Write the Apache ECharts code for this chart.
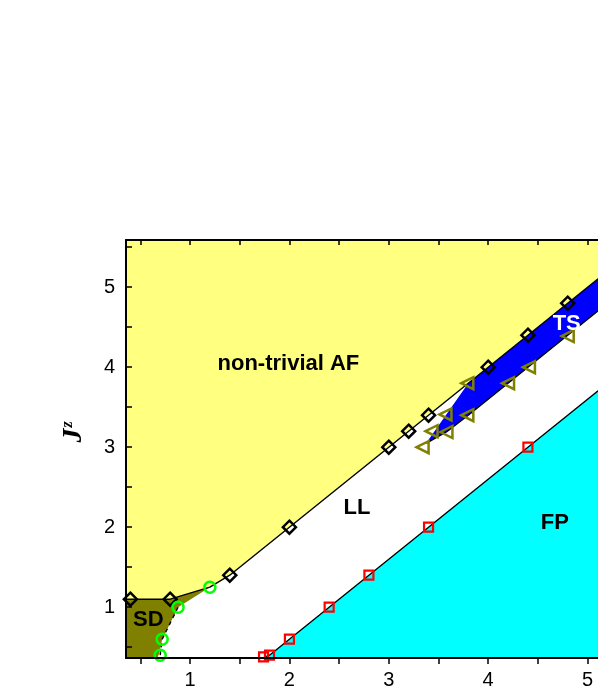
<!DOCTYPE html>
<html><head><meta charset="utf-8">
<script src="https://cdn.jsdelivr.net/npm/echarts@6/dist/echarts.min.js"></script>
<style>html,body{margin:0;padding:0;background:#fff}#c{width:598px;height:696px}</style>
</head><body><div id="c"></div>
<script>
// ---- axis ranges & ticks ----
const X_MIN = 0.356, X_MAX = 5.105, Y_MIN = 0.365, Y_MAX = 5.59;
const xTicks = [0.5,1,1.5,2,2.5,3,3.5,4,4.5,5];
const xLabels = [1,2,3,4,5];
const yTicks = [0.5,1,1.5,2,2.5,3,3.5,4,4.5,5,5.5];
const yLabels = [1,2,3,4,5];

// ---- marker data ----
const diamondX = [0.4, 0.8, 1.4, 2.0, 3.0, 3.2, 3.4, 4.0, 4.4, 4.8];
const diamondY = [1.1, 1.1, 1.4, 2.0, 3.0, 3.2, 3.4, 4.0, 4.4, 4.8];
const circleX = [0.7, 0.72, 0.88, 1.2];
const circleY = [0.4, 0.6, 1.0, 1.25];
const squareX = [1.74, 1.8, 2.0, 2.4, 2.8, 3.4, 4.4];
const squareY = [0.38, 0.4, 0.6, 1.0, 1.4, 2.0, 3.0];
const triX = [3.34, 3.43, 3.58, 3.57, 3.79, 3.79, 4.2, 4.41, 4.8];
const triY = [3.0, 3.2, 3.19, 3.41, 3.4, 3.8, 3.8, 4.0, 4.39];

// ---- boundary lines ----
const afLineX = [0.356, 0.4, 0.8, 1.2, 1.4, 2.0, 3.0, 3.2, 3.4, 3.8, 4.0, 4.4, 4.8, 5.6];
const afLineY = [1.1, 1.1, 1.1, 1.25, 1.4, 2.0, 3.0, 3.2, 3.4, 3.8, 4.0, 4.4, 4.8, 5.6];
const tsLowX = [3.38, 3.45, 3.58, 3.8, 4.2, 4.4, 4.8, 5.6];
const tsLowY = [3.05, 3.1, 3.19, 3.4, 3.8, 4.0, 4.4, 5.2];
const fpLineX = [1.735, 1.8, 2.0, 2.4, 2.8, 3.4, 4.4, 5.6];
const fpLineY = [0.365, 0.4, 0.6, 1.0, 1.4, 2.0, 3.0, 4.2];
const sdDashX = [0.88, 0.72, 0.7];
const sdDashY = [1.0, 0.6, 0.4];

// ---- region polygons ----
const afRegionX = [0.356, 0.356, 5.59, 4.8, 4.4, 4.0, 3.8, 3.4, 3.2, 3.0, 2.0, 1.4, 1.2, 0.8];
const afRegionY = [1.1, 5.59, 5.59, 4.8, 4.4, 4.0, 3.8, 3.4, 3.2, 3.0, 2.0, 1.4, 1.25, 1.1];
const sdRegionX = [0.356, 0.356, 0.8, 1.2, 0.88, 0.72, 0.69, 0.67];
const sdRegionY = [0.365, 1.1, 1.1, 1.25, 1.0, 0.6, 0.42, 0.365];
const tsRegionX = [3.37, 3.8, 4.0, 4.4, 4.8, 5.6, 5.6, 4.8, 4.4, 4.2, 3.8, 3.58, 3.44];
const tsRegionY = [3.04, 3.8, 4.0, 4.4, 4.8, 5.6, 5.2, 4.4, 4.0, 3.8, 3.4, 3.19, 3.09];
const fpRegionX = [1.735, 1.8, 2.0, 2.4, 2.8, 3.4, 4.4, 5.6, 5.6];
const fpRegionY = [0.365, 0.4, 0.6, 1.0, 1.4, 2.0, 3.0, 4.2, 0.365];

// ---- region labels ----
const labelText = ['non-trivial AF', 'LL', 'FP', 'SD', 'TS'];
const labelX = [1.99, 2.68, 4.67, 0.58, 4.79];
const labelY = [4.04, 2.24, 2.05, 0.84, 4.54];
const labelColor = ['#000', '#000', '#000', '#000', '#fff'];

const zip = (xs, ys) => xs.map((x, i) => [x, ys[i]]);

function polygon(xs, ys, color) {
  return {
    type: 'custom', coordinateSystem: 'cartesian2d', silent: true, clip: true, z: 1,
    data: zip(xs, ys),
    renderItem: function (params, api) {
      if (params.dataIndex !== 0) return null;
      const pts = xs.map((x, i) => api.coord([x, ys[i]]));
      return { type: 'polygon', shape: { points: pts }, style: { fill: color, stroke: null, lineWidth: 0 } };
    }
  };
}
function line(xs, ys, dashed) {
  return {
    type: 'line', data: zip(xs, ys), symbol: 'none', silent: true, z: 3, animation: false, clip: true,
    lineStyle: { color: '#000', width: 1.4, type: dashed ? [4, 4] : 'solid' }
  };
}
function markers(xs, ys, symbol, size, color, width, rotate) {
  return {
    type: 'scatter', data: zip(xs, ys), symbol: symbol, symbolSize: size, symbolRotate: rotate || 0,
    z: 5, silent: true, animation: false,
    itemStyle: { color: 'rgba(0,0,0,0)', borderColor: color, borderWidth: width, opacity: 1 }
  };
}

const chart = echarts.init(document.getElementById('c'), null, { renderer: 'canvas' });
const axisFont = { fontFamily: 'Liberation Sans, Arial, sans-serif', fontSize: 20, color: '#000' };
const serif = 'Liberation Serif, DejaVu Serif, serif';
chart.setOption({
  animation: false,
  grid: { left: 126, top: 240, right: 0, height: 418, containLabel: false },
  xAxis: [
    {
      type: 'value', min: X_MIN, max: X_MAX, position: 'bottom', z: 10,
      axisLine: { onZero: false, lineStyle: { color: '#000', width: 2 } },
      axisTick: { show: true, inside: false, length: 6, customValues: xTicks, lineStyle: { color: '#000', width: 1.5 } },
      axisLabel: Object.assign({ customValues: xLabels, margin: 12 }, axisFont),
      splitLine: { show: false }
    },
    {
      type: 'value', min: X_MIN, max: X_MAX, position: 'top', z: 10,
      axisLine: { onZero: false, lineStyle: { color: '#000', width: 2 } },
      axisTick: { show: true, inside: true, length: 5, customValues: xTicks, lineStyle: { color: '#000', width: 1.5 } },
      axisLabel: { show: false }, splitLine: { show: false }
    }
  ],
  yAxis: [{
    type: 'value', min: Y_MIN, max: Y_MAX, position: 'left', z: 10,
    axisLine: { onZero: false, lineStyle: { color: '#000', width: 2 } },
    axisTick: { show: true, inside: true, length: 6, customValues: yTicks, lineStyle: { color: '#000', width: 1.5 } },
    axisLabel: Object.assign({ customValues: yLabels, margin: 11 }, axisFont),
    splitLine: { show: false },
    name: '{j|J}{z|z}', nameLocation: 'middle', nameRotate: 90, nameGap: 38,
    nameTextStyle: {
      fontSize: 28, fontFamily: serif, fontStyle: 'italic', fontWeight: 'bold', color: '#000',
      padding: [0, 0, 0, 34],
      rich: {
        j: { fontFamily: serif, fontStyle: 'italic', fontWeight: 'bold', fontSize: 28, color: '#000' },
        z: { fontFamily: serif, fontStyle: 'italic', fontWeight: 'bold', fontSize: 16, color: '#000', verticalAlign: 'top', padding: [0, 0, 12, 1] }
      }
    }
  }],
  series: [
    polygon(afRegionX, afRegionY, '#ffff80'),
    polygon(fpRegionX, fpRegionY, '#00ffff'),
    polygon(sdRegionX, sdRegionY, '#808000'),
    polygon(tsRegionX, tsRegionY, '#0000ff'),
    line(afLineX, afLineY, false),
    line(tsLowX, tsLowY, false),
    line(fpLineX, fpLineY, false),
    line(sdDashX, sdDashY, true),
    markers(diamondX, diamondY, 'diamond', 13, '#000', 2.5),
    markers(circleX, circleY, 'circle', 11, '#00ff00', 2.5),
    markers(squareX, squareY, 'rect', 9, '#ff0000', 2.2),
    markers(triX, triY, 'triangle', 12, '#808000', 2.5, 90),
    {
      type: 'scatter', symbol: 'circle', symbolSize: 1, silent: true, z: 6, animation: false,
      itemStyle: { color: 'rgba(0,0,0,0)', opacity: 1 },
      data: labelText.map((t, i) => ({
        value: [labelX[i], labelY[i]],
        label: { show: true, position: 'inside', formatter: t, color: labelColor[i], opacity: 1,
                 fontFamily: 'Liberation Sans, Arial, sans-serif', fontWeight: 'bold', fontSize: 22 }
      }))
    }
  ]
});
</script>
</body></html>
